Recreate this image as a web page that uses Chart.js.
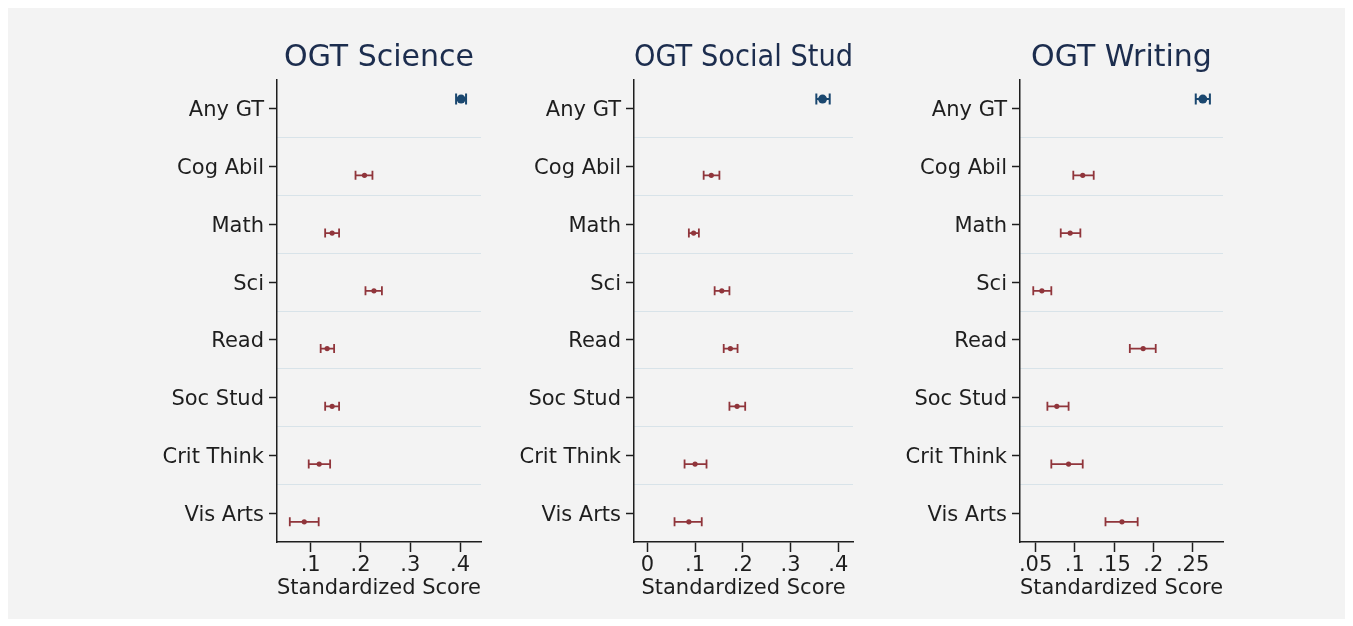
<!DOCTYPE html>
<html>
<head>
<meta charset="utf-8">
<script src="https://cdn.jsdelivr.net/npm/chart.js@4.4.1/dist/chart.umd.min.js"></script>
<style>
  body { margin: 0; background: #fff; }
  #frame { position: absolute; left: 8px; top: 8px; width: 1337px; height: 611px; background: #f3f3f3; }
  canvas { position: absolute; top: 20px; }
</style>
</head>
<body>
<div id="frame"></div>
<canvas id="sci" width="350" height="590" style="left:140px"></canvas>
<canvas id="soc" width="365" height="590" style="left:497px"></canvas>
<canvas id="wri" width="349" height="590" style="left:883px"></canvas>
<script>
const categories = ['Any GT', 'Cog Abil', 'Math', 'Sci', 'Read', 'Soc Stud', 'Crit Think', 'Vis Arts'];

// OGT Science
const sciEst = [0.402, 0.208, 0.143, 0.227, 0.133, 0.143, 0.117, 0.087];
const sciLo  = [0.392, 0.190, 0.129, 0.210, 0.120, 0.129, 0.096, 0.058];
const sciHi  = [0.412, 0.224, 0.157, 0.243, 0.147, 0.157, 0.139, 0.116];
const sciTicks = [0.1, 0.2, 0.3, 0.4];

// OGT Social Stud
const socEst = [0.367, 0.134, 0.097, 0.156, 0.174, 0.188, 0.100, 0.087];
const socLo  = [0.354, 0.118, 0.087, 0.141, 0.160, 0.172, 0.078, 0.057];
const socHi  = [0.382, 0.151, 0.108, 0.172, 0.189, 0.205, 0.124, 0.114];
const socTicks = [0, 0.1, 0.2, 0.3, 0.4];

// OGT Writing
const wriEst = [0.263, 0.110, 0.094, 0.058, 0.187, 0.077, 0.092, 0.160];
const wriLo  = [0.254, 0.098, 0.082, 0.047, 0.170, 0.065, 0.070, 0.139];
const wriHi  = [0.272, 0.124, 0.107, 0.070, 0.203, 0.092, 0.110, 0.180];
const wriTicks = [0.05, 0.1, 0.15, 0.2, 0.25];

const NAVY = '#1a476f';
const MAROON = '#90353b';
const INK = '#1e1e1e';
const FONT = 'DejaVu Sans';
const GT_SHIFT = -0.17;
const EV_SHIFT = 0.15;

// capped horizontal CI lines, drawn under the point markers
const whiskers = {
  id: 'whiskers',
  beforeDatasetsDraw(chart) {
    const { ctx, scales: { x, y } } = chart;
    chart.data.datasets.forEach(ds => {
      ctx.save();
      ctx.strokeStyle = ds.borderColor;
      ctx.lineWidth = ds.whiskerWidth;
      const h = ds.capSize / 2;
      ds.data.forEach(p => {
        const x0 = x.getPixelForValue(p.lo);
        const x1 = x.getPixelForValue(p.hi);
        const py = y.getPixelForValue(p.y);
        ctx.beginPath();
        ctx.moveTo(x0, py); ctx.lineTo(x1, py);
        ctx.moveTo(x0, py - h); ctx.lineTo(x0, py + h);
        ctx.moveTo(x1, py - h); ctx.lineTo(x1, py + h);
        ctx.stroke();
      });
      ctx.restore();
    });
  }
};

function fmt(v) {
  if (Math.abs(v) < 1e-9) return '0';
  return String(+v.toFixed(3)).replace(/^0\./, '.');
}

function makePanel(id, title, est, lo, hi, xMin, xMax, xTicks) {
  const gtData = [{ x: est[0], y: GT_SHIFT, lo: lo[0], hi: hi[0] }];
  const evData = categories.slice(1).map((c, i) => ({
    x: est[i + 1], y: i + 1 + EV_SHIFT, lo: lo[i + 1], hi: hi[i + 1]
  }));

  new Chart(document.getElementById(id), {
    type: 'scatter',
    data: {
      datasets: [
        { data: gtData, backgroundColor: NAVY, borderColor: NAVY, pointRadius: 4.5,
          pointBorderWidth: 0, whiskerWidth: 2, capSize: 11 },
        { data: evData, backgroundColor: MAROON, borderColor: MAROON, pointRadius: 2.6,
          pointBorderWidth: 0, whiskerWidth: 1.8, capSize: 9 }
      ]
    },
    options: {
      responsive: false,
      animation: false,
      layout: { padding: { left: 0, right: 9, top: 0, bottom: 0 } },
      plugins: {
        legend: { display: false },
        tooltip: { enabled: false },
        title: {
          display: true,
          text: title,
          fullSize: false,
          color: '#1c2d4e',
          font: { family: FONT, size: 30, weight: 'normal' },
          padding: { top: 20, bottom: 4 }
        }
      },
      scales: {
        x: {
          type: 'linear',
          min: xMin,
          max: xMax,
          afterBuildTicks: s => { s.ticks = xTicks.map(v => ({ value: v })); },
          afterFit: s => { s.height = 68; },
          ticks: {
            color: INK,
            font: { family: FONT, size: 21 },
            padding: 1,
            maxRotation: 0,
            callback: v => fmt(v)
          },
          grid: { drawOnChartArea: false, drawTicks: true, tickLength: 10, color: INK, tickWidth: 1.5 },
          border: { display: true, color: INK, width: 1.5 },
          title: {
            display: true,
            text: 'Standardized Score',
            color: INK,
            font: { family: FONT, size: 21 },
            padding: { top: 0, bottom: 9 }
          }
        },
        y: {
          type: 'linear',
          position: 'left',
          reverse: true,
          min: -0.5,
          max: 7.5,
          afterBuildTicks: s => { s.ticks = categories.map((c, i) => ({ value: i })); },
          afterFit: s => { s.width = 137; },
          ticks: {
            color: INK,
            font: { family: FONT, size: 21 },
            padding: 5,
            labelOffset: 2,
            callback: v => categories[v]
          },
          grid: { drawOnChartArea: false, drawTicks: true, tickLength: 8, color: INK, tickWidth: 1.5 },
          border: { display: true, color: INK, width: 1.5 }
        },
        yg: {
          type: 'linear',
          position: 'left',
          reverse: true,
          min: -0.5,
          max: 7.5,
          afterBuildTicks: s => { s.ticks = categories.slice(1).map((c, i) => ({ value: i + 0.5 })); },
          afterFit: s => { s.width = 0; },
          ticks: { display: false },
          grid: { drawOnChartArea: true, drawTicks: false, color: '#d8e3e9', lineWidth: 1 },
          border: { display: false }
        }
      }
    },
    plugins: [whiskers]
  });
}

makePanel('sci', 'OGT Science', sciEst, sciLo, sciHi, 0.0323, 0.442, sciTicks);
makePanel('soc', 'OGT Social Stud', socEst, socLo, socHi, -0.0279, 0.4308, socTicks);
makePanel('wri', 'OGT Writing', wriEst, wriLo, wriHi, 0.0301, 0.2887, wriTicks);
</script>
</body>
</html>
